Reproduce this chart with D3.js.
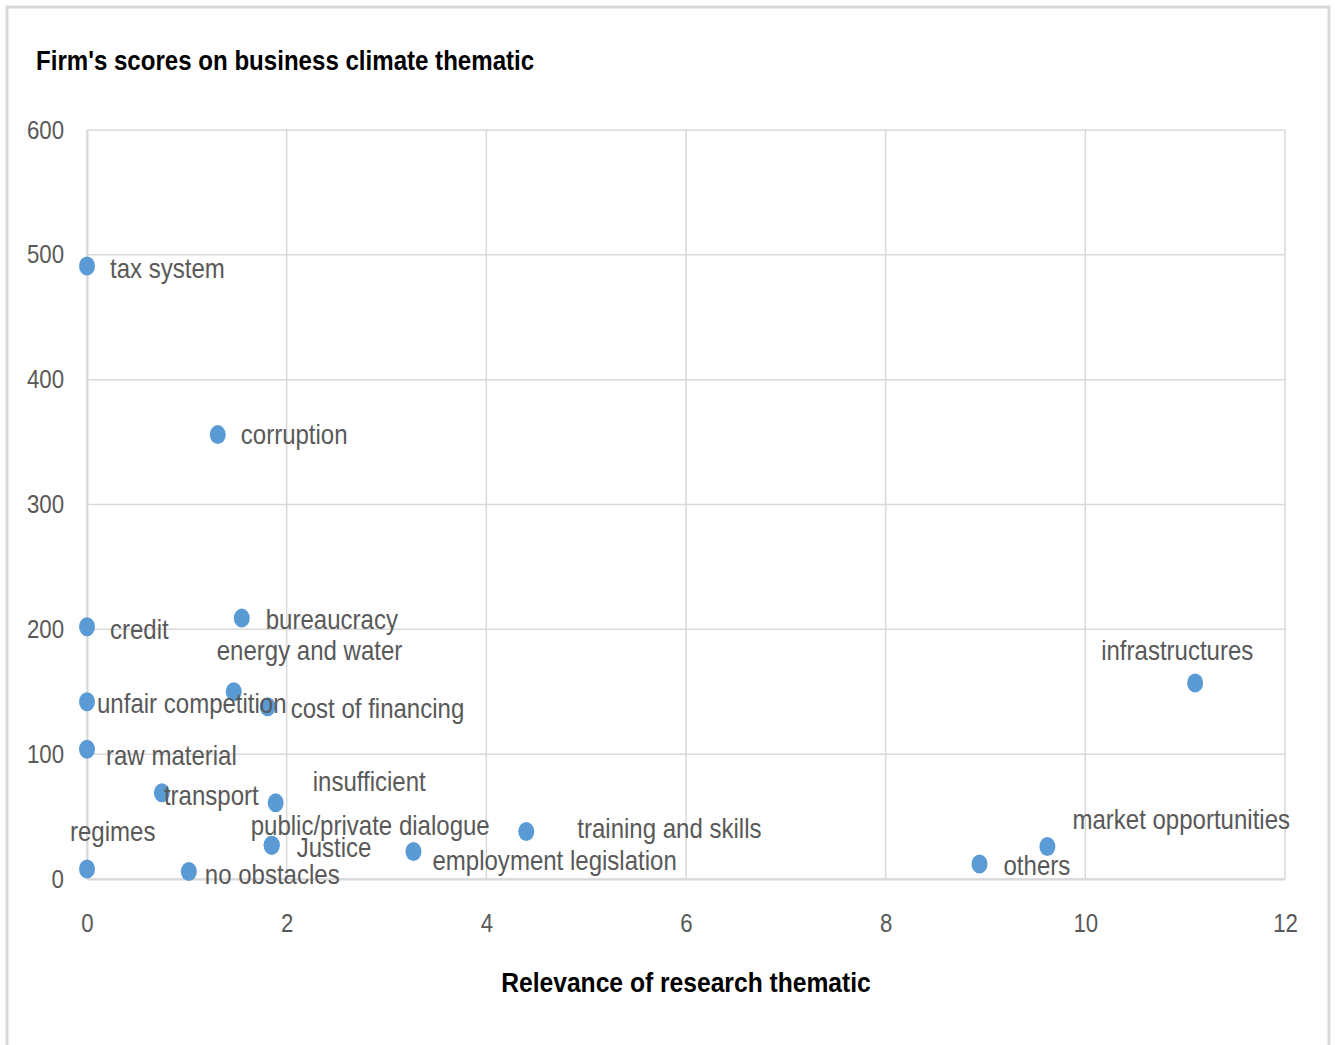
<!DOCTYPE html>
<html>
<head>
<meta charset="utf-8">
<script src="https://cdn.jsdelivr.net/npm/d3@7"></script>
<style>
  body { margin: 0; background: #fff; }
  text { font-family: "Liberation Sans", Arial, sans-serif; }
</style>
</head>
<body>
<svg id="chart" width="1335" height="1045"></svg>
<script>
// data
const themes = ['tax system', 'corruption', 'credit', 'bureaucracy', 'energy and water',
  'cost of financing', 'unfair competition', 'raw material', 'transport', 'insufficient',
  'public/private dialogue', 'Justice', 'regimes', 'no obstacles', 'employment legislation',
  'training and skills', 'infrastructures', 'market opportunities', 'others'];
const relevance = [0, 1.31, 0, 1.55, 1.47, 1.81, 0, 0, 0.75, 1.89,
  1.85, 1.85, 0, 1.02, 3.27, 4.40, 11.10, 9.62, 8.94];
const scores = [491, 356, 202, 209, 150, 138, 142, 104, 69, 61,
  27, 27, 8, 6, 22, 38, 157, 26, 12];
const xTicks = [0, 2, 4, 6, 8, 10, 12];
const yTicks = [0, 100, 200, 300, 400, 500, 600];

// where each data label sits relative to its marker (moved by hand in the original)
const labelOffsets = {
  'tax system': [23, 2], 'corruption': [23, 0], 'credit': [23, 3], 'bureaucracy': [24, 1],
  'energy and water': [-17, -41], 'cost of financing': [23, 2], 'unfair competition': [10, 2],
  'raw material': [19, 6], 'transport': [2, 3], 'insufficient': [37, -21],
  'public/private dialogue': [-21, -20], 'Justice': [25, 2], 'regimes': [-17, -37],
  'no obstacles': [16, 3], 'employment legislation': [19, 9], 'training and skills': [51, -3],
  'infrastructures': [-94, -32], 'market opportunities': [25, -27], 'others': [24, 2]
};

const points = themes.map((t, i) => ({ name: t, x: relevance[i], y: scores[i] }));

const svg = d3.select('#chart');
const grid = '#d9d9d9';
const textGrey = '#595959';
const squeeze = 0.89; // the original font is tall and narrow

// outer chart frame
svg.append('rect')
  .attr('x', 7).attr('y', 7)
  .attr('width', 1322).attr('height', 1045)
  .attr('fill', '#fff')
  .attr('stroke', grid)
  .attr('stroke-width', 3);

const x = d3.scaleLinear().domain([0, 12]).range([87, 1285]);
const y = d3.scaleLinear().domain([0, 600]).range([879, 130]);

// gridlines
svg.append('g')
  .selectAll('line')
  .data(xTicks)
  .join('line')
  .attr('x1', d => x(d)).attr('x2', d => x(d))
  .attr('y1', y(600)).attr('y2', y(0))
  .attr('stroke', grid).attr('stroke-width', 1.5);

svg.append('g')
  .selectAll('line')
  .data(yTicks)
  .join('line')
  .attr('x1', x(0)).attr('x2', x(12))
  .attr('y1', d => y(d)).attr('y2', d => y(d))
  .attr('stroke', grid).attr('stroke-width', 1.5);

// axes: labels only, the lines are the gridlines
const xAxis = svg.append('g')
  .attr('transform', `translate(0,${y(0)})`)
  .call(d3.axisBottom(x).tickValues(xTicks).tickSize(0).tickPadding(35));
const yAxis = svg.append('g')
  .attr('transform', `translate(${x(0)},0)`)
  .call(d3.axisLeft(y).tickValues(yTicks).tickSize(0));

[xAxis, yAxis].forEach(a => {
  a.select('.domain').attr('stroke', grid).attr('stroke-width', 2);
  a.selectAll('text')
    .attr('font-family', '"Liberation Sans", sans-serif')
    .attr('font-size', 25)
    .attr('fill', textGrey)
    .attr('transform', `scale(${squeeze},1)`);
});
yAxis.selectAll('text').attr('x', -23 / squeeze);

// markers
svg.append('g')
  .selectAll('ellipse')
  .data(points)
  .join('ellipse')
  .attr('cx', d => x(d.x))
  .attr('cy', d => y(d.y))
  .attr('rx', 8)
  .attr('ry', 9.5)
  .attr('fill', '#5b9bd5');

// data labels
svg.append('g')
  .selectAll('text')
  .data(points)
  .join('text')
  .attr('transform', d => {
    const [dx, dy] = labelOffsets[d.name];
    return `translate(${x(d.x) + dx},${y(d.y) + dy}) scale(${squeeze},1)`;
  })
  .attr('dy', '0.35em')
  .attr('font-size', 27)
  .attr('fill', textGrey)
  .text(d => d.name);

// titles
function title(txt, tx, ty, anchor, sx) {
  svg.append('text')
    .attr('transform', `translate(${tx},${ty}) scale(${sx},1)`)
    .attr('text-anchor', anchor)
    .attr('font-size', 28)
    .attr('font-weight', 'bold')
    .attr('fill', '#000')
    .text(txt);
}
title("Firm's scores on business climate thematic", 36, 70, 'start', 0.86);
title('Relevance of research thematic', 686, 992, 'middle', 0.88);
</script>
</body>
</html>
